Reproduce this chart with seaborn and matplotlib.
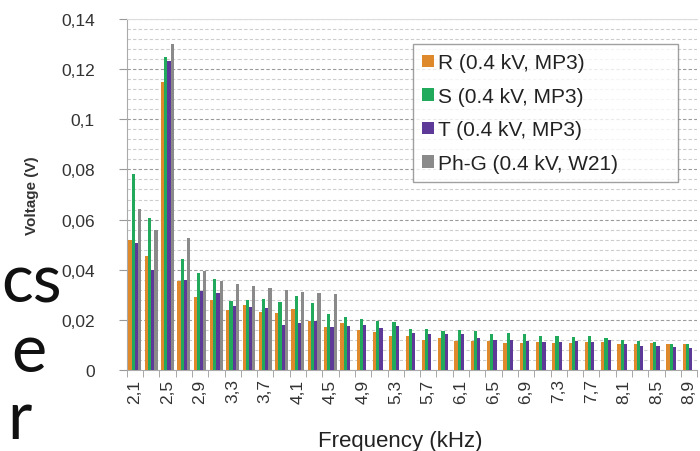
import matplotlib
matplotlib.use('Agg')
import matplotlib.pyplot as plt
import seaborn as sns
import pandas as pd
import numpy as np
from matplotlib.ticker import FixedLocator, MultipleLocator

# frequency categories (kHz), every other one gets a label
freq_labels = ['2,1', '2,3', '2,5', '2,7', '2,9', '3,1', '3,3', '3,5', '3,7', '3,9',
               '4,1', '4,3', '4,5', '4,7', '4,9', '5,1', '5,3', '5,5', '5,7', '5,9',
               '6,1', '6,3', '6,5', '6,7', '6,9', '7,1', '7,3', '7,5', '7,7', '7,9',
               '8,1', '8,3', '8,5', '8,7', '8,9']

series_names = ['R (0.4 kV, MP3)', 'S (0.4 kV, MP3)', 'T (0.4 kV, MP3)', 'Ph-G (0.4 kV, W21)']

volt_R = [0.052, 0.0455, 0.115, 0.0356, 0.029, 0.028, 0.024, 0.026, 0.0233, 0.0227,
          0.0244, 0.0195, 0.0171, 0.0188, 0.016, 0.0153, 0.0137, 0.0135, 0.012, 0.0127,
          0.0117, 0.0117, 0.0115, 0.0108, 0.0108, 0.0113, 0.0108, 0.0107, 0.0113, 0.0111,
          0.0104, 0.0104, 0.0108, 0.0104, 0.0104]
volt_S = [0.078, 0.0607, 0.1247, 0.0444, 0.0387, 0.0364, 0.0275, 0.028, 0.0284, 0.0271,
          0.0297, 0.0267, 0.0223, 0.021, 0.0204, 0.0195, 0.019, 0.0164, 0.0164, 0.0155,
          0.0161, 0.0155, 0.0144, 0.0147, 0.0144, 0.0135, 0.0137, 0.0131, 0.0135, 0.0128,
          0.012, 0.0115, 0.0111, 0.0104, 0.0104]
volt_T = [0.0507, 0.040, 0.1233, 0.0361, 0.0315, 0.0307, 0.0257, 0.0251, 0.0248, 0.018,
          0.0188, 0.0195, 0.0171, 0.0177, 0.018, 0.0167, 0.0175, 0.0148, 0.0144, 0.0144,
          0.0144, 0.0128, 0.0121, 0.012, 0.0117, 0.0113, 0.0111, 0.0117, 0.0113, 0.0121,
          0.0104, 0.0095, 0.0095, 0.0093, 0.0088]
# Ph-G only measured up to 4.5 kHz
volt_PhG = [0.0644, 0.0557, 0.130, 0.0527, 0.0395, 0.0355, 0.0344, 0.0335, 0.0327, 0.032,
            0.0313, 0.0307, 0.0304]

y_ticks = [0, 0.02, 0.04, 0.06, 0.08, 0.1, 0.12, 0.14]
y_tick_labels = ['0', '0,02', '0,04', '0,06', '0,08', '0,1', '0,12', '0,14']

colors = ['#DE8A2C', '#22AA5C', '#5E3A98', '#8A8A8A']

# long table for seaborn
rows = []
for name, vals in zip(series_names, [volt_R, volt_S, volt_T, volt_PhG]):
    for f, v in zip(freq_labels, vals):
        rows.append({'Frequency': f, 'Series': name, 'Voltage': v})
data = pd.DataFrame(rows)

sns.set_style('white')
plt.rcParams['font.family'] = ['Liberation Sans', 'DejaVu Sans']

fig = plt.figure(figsize=(7, 4.52), dpi=100)
ax = fig.add_axes([0.181, 0.179, 0.815, 0.777])

sns.barplot(data=data, x='Frequency', y='Voltage', hue='Series',
            order=freq_labels, hue_order=series_names, palette=colors,
            width=0.78, saturation=1, linewidth=0, ax=ax, zorder=3)

ax.set_xlim(-0.5, len(freq_labels) - 0.5)
ax.set_ylim(0, 0.14)

# grid: major dashed, minor lighter
ax.yaxis.set_major_locator(FixedLocator(y_ticks))
ax.set_yticklabels(y_tick_labels, fontsize=12.5, color='#333333')
ax.yaxis.set_minor_locator(MultipleLocator(0.004))
ax.grid(True, axis='y', which='major', color='#9a9a9a', linestyle=(0, (3, 2)), linewidth=0.8, zorder=0)
ax.grid(True, axis='y', which='minor', color='#cccccc', linestyle=(0, (3, 2)), linewidth=0.8, zorder=0)
ax.tick_params(axis='y', which='major', length=6, color='#999999', left=True, pad=17)
ax.tick_params(axis='y', which='minor', length=0)

# x labels every other category, tick marks at category boundaries
xpos = np.arange(0, len(freq_labels), 2)
ax.set_xticks(xpos)
ax.set_xticklabels([freq_labels[i] for i in xpos], rotation=90, fontsize=12.5, color='#333333')
ax.tick_params(axis='x', which='major', length=0, pad=6)
ax.set_xticks(np.arange(-0.5, len(freq_labels), 1), minor=True)
ax.tick_params(axis='x', which='minor', length=5, color='#999999', bottom=True)

for s in ['left', 'bottom']:
    ax.spines[s].set_color('#aaaaaa')
ax.spines['top'].set_color('#dddddd')
ax.spines['right'].set_visible(False)

ax.set_xlabel('Frequency (kHz)', fontsize=16, color='#222222')
ax.xaxis.set_label_coords(0.48, -0.172)
ax.set_ylabel('Voltage (V)', fontsize=11, fontweight='bold', color='#333333', labelpad=16)

leg = ax.legend(loc='upper left', bbox_to_anchor=(0.502, 0.538, 0.465, 0.391), mode='expand',
                fontsize=15, frameon=True, fancybox=False, edgecolor='#888888',
                handlelength=0.55, handleheight=0.55, handletextpad=0.2,
                labelspacing=0.7, borderpad=0.45, borderaxespad=0)
leg.get_frame().set_linewidth(1.0)
for t in leg.get_texts():
    t.set_color('#222222')

# slide text cut at the left border
for txt, x, y, va in [('cs', 0.088, 0.33, 'baseline'), ('e', 0.066, 0.178, 'baseline'),
                      ('r', 0.045, 0.003, 'bottom')]:
    fig.text(x, y, txt, fontsize=48, family=['Lato', 'DejaVu Sans'],
             ha='right', va=va, color='#111111')

fig.savefig('out.png', dpi=100)
